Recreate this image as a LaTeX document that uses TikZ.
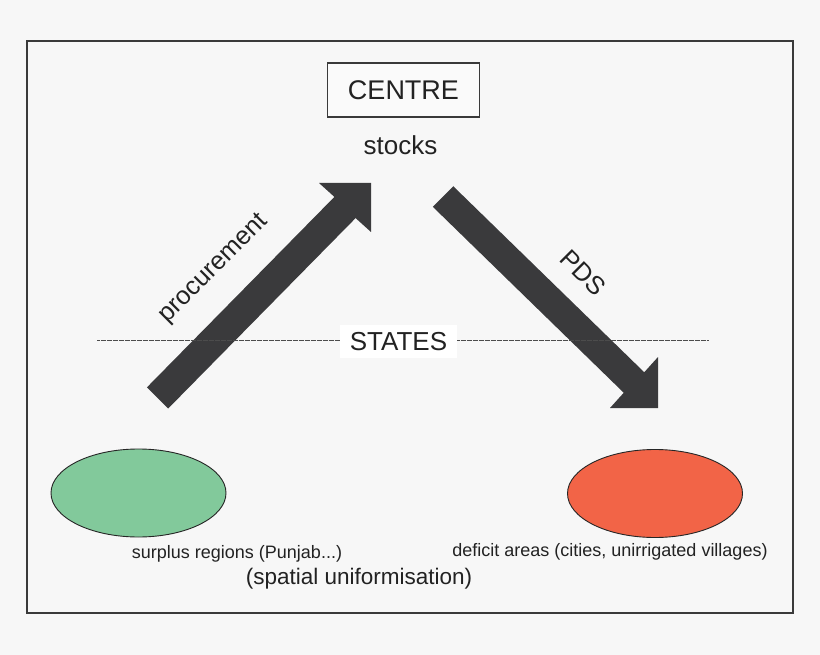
\documentclass[tikz,border=0pt]{standalone}
\usepackage{fontspec}
\setmainfont{Liberation Sans}
\usetikzlibrary{shapes.geometric}
\definecolor{bg}{HTML}{F7F7F7}
\definecolor{arrowgray}{HTML}{3A3A3C}
\definecolor{surplusgreen}{HTML}{82C99B}
\definecolor{deficitred}{HTML}{F26447}
\definecolor{textdark}{HTML}{222222}
\definecolor{framegray}{HTML}{3A3A3A}
\begin{document}
\begin{tikzpicture}[x=1pt,y=-1pt,
  txt/.style={inner sep=0pt, text=textdark},
  fatarrow/.style={fill=arrowgray, draw=none},
  region/.style={ellipse, draw=black!85, line width=0.9pt, minimum width=175pt, minimum height=88pt, inner sep=0pt},
  boxed/.style={draw=framegray, line width=1.2pt, fill=bg!60!white, minimum width=152pt, minimum height=54pt, inner sep=0pt, text=textdark},
]
\useasboundingbox (0,0) rectangle (820,655);
\fill[bg] (0,0) rectangle (820,655);
\draw[line width=1.6pt, draw=framegray] (27,41) rectangle (793,613);

% centre
\node[boxed] (centre) at (403.5,90) {\fontsize{27}{32}\selectfont CENTRE};
\node[txt] (stocks) at (400.5,145) {\fontsize{26}{30}\selectfont stocks};

% arrows
\coordinate (uptail) at (157.5,398);
\coordinate (uptip) at (371,183);
\fill[fatarrow] (146.9,387.4) -- (334.4,196.9) -- (319,183) -- (uptip) -- (371,232) -- (355.6,218.1) -- (168.1,408.6) -- cycle;
\coordinate (dntail) at (443,196.5);
\coordinate (dntip) at (658,408);
\fill[fatarrow] (453.25,186.25) -- (644.25,372.25) -- (658,357) -- (dntip) -- (610,408) -- (623.75,392.75) -- (432.75,206.75) -- cycle;

% states line
\coordinate (lineL) at (97,340.5);
\coordinate (lineR) at (708,340.5);
\draw[draw=black!70, line width=1.2pt, dash pattern=on 0.6pt off 0.6pt] (lineL) -- (lineR);
\node[fill=white, minimum width=117pt, minimum height=33pt, inner sep=0pt, text=textdark] (states) at (398.5,341.5) {\fontsize{26}{30}\selectfont STATES};

% arrow labels
\node[txt, rotate=45] (proc) at (214,269) {\fontsize{25.5}{30}\selectfont procurement};
\node[txt, rotate=-45] (pds) at (583,273) {\fontsize{25.5}{30}\selectfont PDS};

% regions
\node[region, fill=surplusgreen] (surplus) at (138.5,493) {};
\node[region, fill=deficitred] (deficit) at (655,493.5) {};
\node[txt] (surpluslbl) at (237,554) {\fontsize{18}{22}\selectfont surplus regions (Punjab...)};
\node[txt] (deficitlbl) at (610,552) {\fontsize{18}{22}\selectfont deficit areas (cities, unirrigated villages)};
\node[txt] (spatial) at (359,579) {\fontsize{22.5}{27}\selectfont (spatial uniformisation)};
\end{tikzpicture}
\end{document}
